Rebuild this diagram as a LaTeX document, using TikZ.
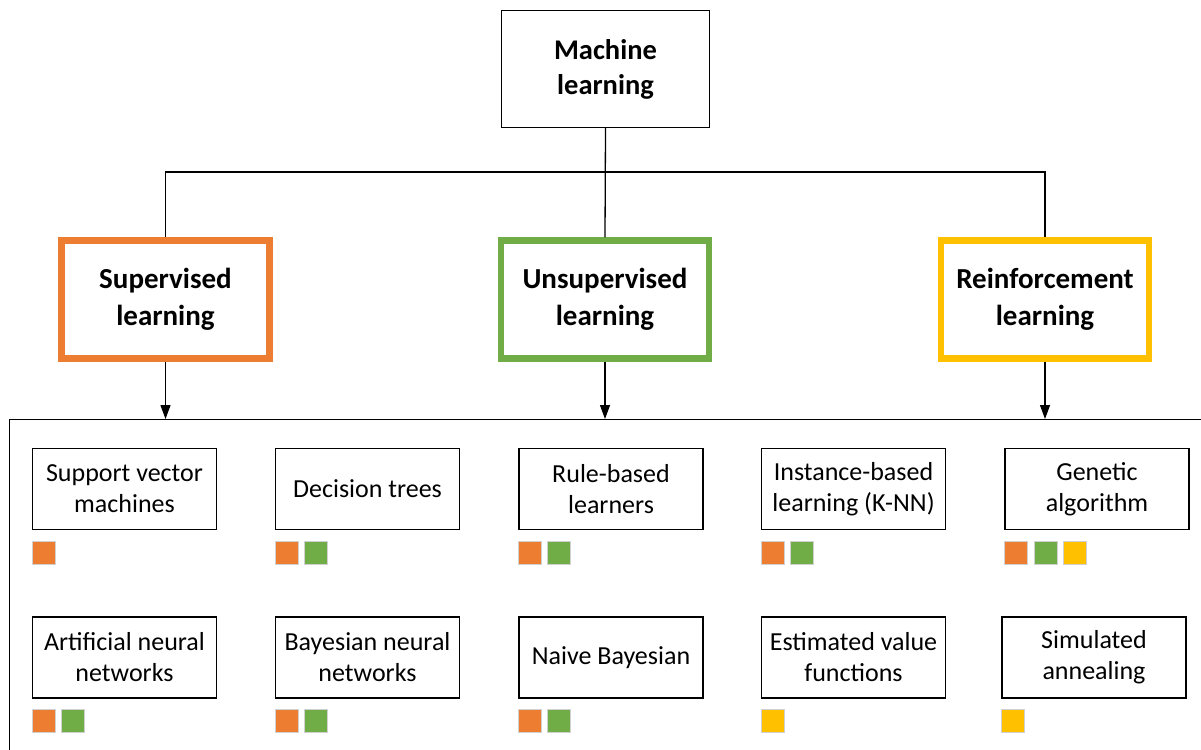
\documentclass[tikz,border=0pt]{standalone}
\usepackage{fontspec}
\setmainfont{Carlito}
\usetikzlibrary{arrows.meta}
\definecolor{mlorange}{HTML}{ED7D31}
\definecolor{mlgreen}{HTML}{70AD47}
\definecolor{mlyellow}{HTML}{FFC000}
\tikzset{
  thinline/.style={line width=1.3pt, draw=black},
  topbox/.style={thinline, minimum width=208pt, minimum height=117pt, inner sep=0pt,
    align=center, font=\fontsize{28.5}{35}\selectfont\bfseries},
  catbox/.style={draw=#1, line width=6.5pt, minimum width=208pt, minimum height=118pt, inner sep=0pt,
    align=center, font=\fontsize{29}{37}\selectfont\bfseries},
  leaf/.style={thinline, minimum width=184pt, minimum height=81pt, inner sep=0pt,
    align=center, font=\fontsize{26}{31}\selectfont},
  sq/.style={fill=#1, draw=black!18, line width=0.6pt, minimum size=23pt, inner sep=0pt, anchor=north west},
  arr/.style={thinline, -{Triangle[length=14pt,width=10pt]}},
}
\begin{document}
\begin{tikzpicture}[x=1pt,y=-1pt]
\useasboundingbox (0,0) rectangle (1201,749);
\fill[white] (0,0) rectangle (1201,749);

% top
\node[topbox] (ml) at (605.5,69) {Machine\\learning};
\node[catbox=mlorange] (sup) at (165.5,299.5) {Supervised\\learning};
\node[catbox=mlgreen] (uns) at (605,299.5) {Unsupervised\\learning};
\node[catbox=mlyellow] (rei) at (1045,299.5) {Reinforcement\\learning};

\coordinate (hub) at (605,172);
\draw[thinline] (ml.south) -- (uns.north);
\draw[thinline] (sup.north) |- (hub) -| (rei.north);

% big frame
\node[thinline, draw, minimum width=1230pt, minimum height=360pt, anchor=north west, inner sep=0pt] (frame) at (9,419) {};

\draw[arr] (sup.south) -- (sup.south |- frame.north);
\draw[arr] (uns.south) -- (uns.south |- frame.north);
\draw[arr] (rei.south) -- (rei.south |- frame.north);

% leaves row 1
\node[leaf] (svm) at (124.5,489) {Support vector\\machines};
\node[leaf] (dt)  at (367.5,489) {Decision trees};
\node[leaf] (rb)  at (611,489)   {Rule-based\\learners};
\node[leaf] (ib)  at (853.5,489) {Instance-based\\learning (K-NN)};
\node[leaf] (ga)  at (1097,489)  {Genetic\\algorithm};
% leaves row 2
\node[leaf] (ann) at (124.5,657.5) {Artificial neural\\networks};
\node[leaf] (bnn) at (367.5,657.5) {Bayesian neural\\networks};
\node[leaf] (nb)  at (611,657.5)   {Naive Bayesian};
\node[leaf] (evf) at (853.5,657.5) {Estimated value\\functions};
\node[leaf] (sa)  at (1094,657.5)  {Simulated\\annealing};

% squares
\node[sq=mlorange] (svm1) at ([yshift=-11pt]svm.south west) {};

\node[sq=mlorange] (dt1) at ([yshift=-11pt]dt.south west) {};
\node[sq=mlgreen]  (dt2) at ([xshift=29pt,yshift=-11pt]dt.south west) {};

\node[sq=mlorange] (rb1) at ([yshift=-11pt]rb.south west) {};
\node[sq=mlgreen]  (rb2) at ([xshift=29pt,yshift=-11pt]rb.south west) {};

\node[sq=mlorange] (ib1) at ([yshift=-11pt]ib.south west) {};
\node[sq=mlgreen]  (ib2) at ([xshift=29pt,yshift=-11pt]ib.south west) {};

\node[sq=mlorange] (ga1) at ([yshift=-11pt]ga.south west) {};
\node[sq=mlgreen]  (ga2) at ([xshift=29.5pt,yshift=-11pt]ga.south west) {};
\node[sq=mlyellow] (ga3) at ([xshift=59pt,yshift=-11pt]ga.south west) {};

\node[sq=mlorange] (ann1) at ([yshift=-10pt]ann.south west) {};
\node[sq=mlgreen]  (ann2) at ([xshift=29pt,yshift=-10pt]ann.south west) {};

\node[sq=mlorange] (bnn1) at ([yshift=-10pt]bnn.south west) {};
\node[sq=mlgreen]  (bnn2) at ([xshift=29pt,yshift=-10pt]bnn.south west) {};

\node[sq=mlorange] (nb1) at ([yshift=-10pt]nb.south west) {};
\node[sq=mlgreen]  (nb2) at ([xshift=29pt,yshift=-10pt]nb.south west) {};

\node[sq=mlyellow] (evf1) at ([yshift=-10pt]evf.south west) {};

\node[sq=mlyellow] (sa1) at ([yshift=-10pt]sa.south west) {};
\end{tikzpicture}
\end{document}
